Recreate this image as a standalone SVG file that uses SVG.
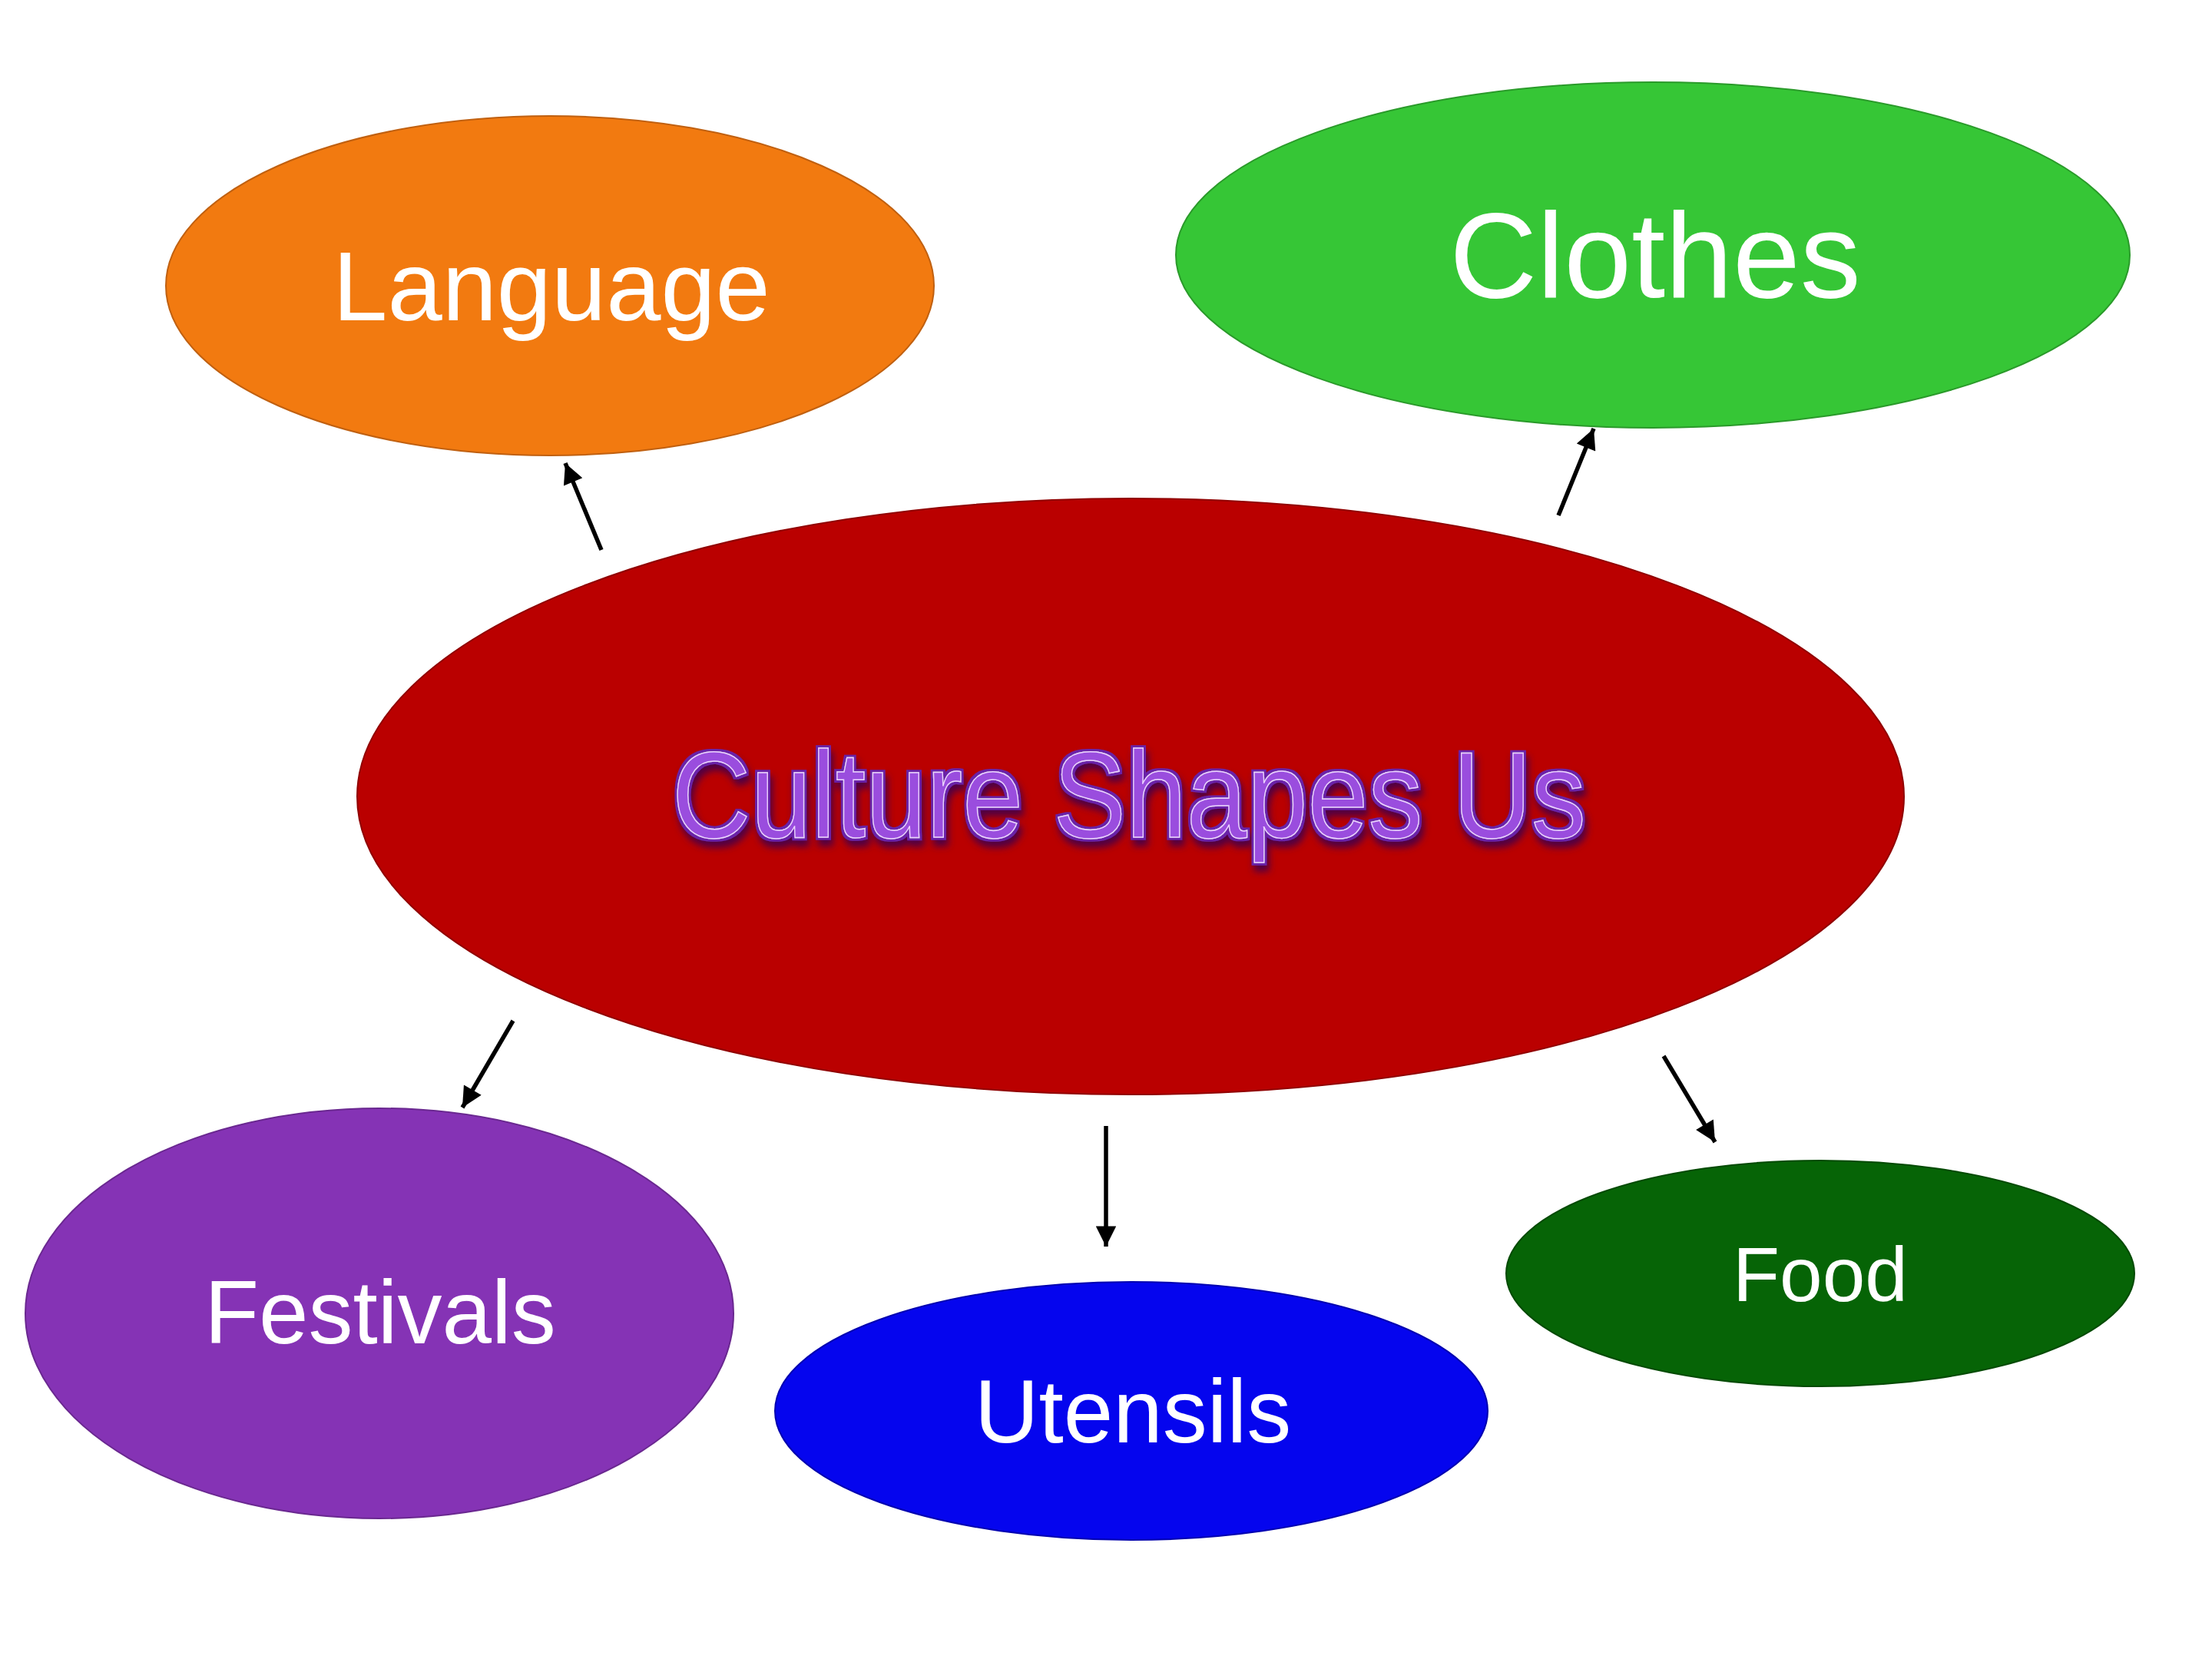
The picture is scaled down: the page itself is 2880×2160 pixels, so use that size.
<svg xmlns="http://www.w3.org/2000/svg" width="2880" height="2160" viewBox="0 0 2880 2160">
<defs>
<style>
.lbl{font-family:"Liberation Sans",Arial,sans-serif;fill:#ffffff;text-anchor:middle}
.node{stroke-width:2}
.conn{stroke:#000;stroke-width:5.5;fill:none;marker-end:url(#arr)}
.title{font-family:"Liberation Sans",Arial,sans-serif;text-anchor:middle;font-size:160px;fill:#9A4EDE;stroke:#EBD2FF;stroke-width:1.5}
</style>
<marker id="arr" viewBox="0 0 10 10" refX="10" refY="5" markerWidth="5.6" markerHeight="4.8" orient="auto" markerUnits="strokeWidth">
<path d="M0,0 L10,5 L0,10 Z" fill="#000"/>
</marker>
<filter id="bevel" x="-10%" y="-40%" width="120%" height="180%">
<feMorphology in="SourceAlpha" operator="dilate" radius="3" result="fat"/>
<feFlood flood-color="#6A22A8" result="c1"/>
<feComposite in="c1" in2="fat" operator="in" result="outline"/>
<feOffset in="fat" dx="3" dy="8" result="off"/>
<feGaussianBlur in="off" stdDeviation="5" result="blur"/>
<feFlood flood-color="#3C0650" flood-opacity="0.85" result="c2"/>
<feComposite in="c2" in2="blur" operator="in" result="shadow"/>
<feMerge>
<feMergeNode in="shadow"/>
<feMergeNode in="outline"/>
<feMergeNode in="SourceGraphic"/>
</feMerge>
</filter>
</defs>
<rect width="2880" height="2160" fill="#ffffff"/>
<g id="language">
<ellipse class="node" cx="716" cy="372" rx="500" ry="221" fill="#F27A10" stroke="#c06010"/>
<text class="lbl" x="718" y="417" font-size="128">Language</text>
</g>
<g id="clothes">
<ellipse class="node" cx="2152" cy="332" rx="621" ry="225" fill="#36C636" stroke="#2a9a2a"/>
<text class="lbl" x="2155" y="387" font-size="158">Clothes</text>
</g>
<g id="culture">
<ellipse class="node" cx="1472" cy="1037" rx="1007" ry="388" fill="#BA0000" stroke="#900000"/>
<text class="title" x="1470" y="1090" filter="url(#bevel)" textLength="1190" lengthAdjust="spacingAndGlyphs">Culture Shapes Us</text>
</g>
<g id="festivals">
<ellipse class="node" cx="494" cy="1710" rx="461" ry="267" fill="#8533B5" stroke="#6a2890"/>
<text class="lbl" x="495" y="1749" font-size="116">Festivals</text>
</g>
<g id="utensils">
<ellipse class="node" cx="1473" cy="1837" rx="464" ry="168" fill="#0505EE" stroke="#0000b0"/>
<text class="lbl" x="1475" y="1878" font-size="116">Utensils</text>
</g>
<g id="food">
<ellipse class="node" cx="2370" cy="1658" rx="409" ry="147" fill="#066406" stroke="#044a04"/>
<text class="lbl" x="2370" y="1694" font-size="100">Food</text>
</g>
<g id="connectors">
<line class="conn" x1="783" y1="716" x2="736" y2="603"/>
<line class="conn" x1="2029" y1="671" x2="2075" y2="558"/>
<line class="conn" x1="668" y1="1329" x2="602" y2="1442"/>
<line class="conn" x1="1440" y1="1466" x2="1440" y2="1623"/>
<line class="conn" x1="2166" y1="1375" x2="2233" y2="1487"/>
</g>
</svg>
